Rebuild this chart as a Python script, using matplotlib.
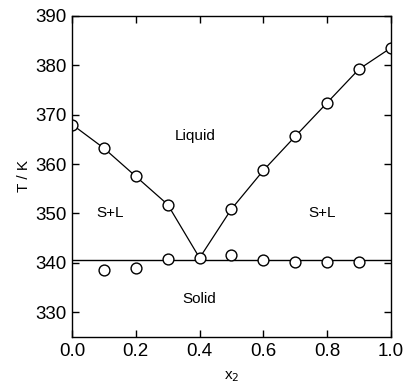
import numpy as np
import matplotlib
matplotlib.use("Agg")
import matplotlib.pyplot as plt

plt.rcParams['font.family'] = ['Liberation Sans', 'DejaVu Sans']

# liquidus points
x_liq = [0.0, 0.1, 0.2, 0.3, 0.4, 0.5, 0.6, 0.7, 0.8, 0.9, 1.0]
T_liq = [368.0, 363.2, 357.5, 351.8, 341.0, 350.9, 358.7, 365.6, 372.4, 379.2, 383.5]

# solidus points
x_sol = [0.1, 0.2, 0.3, 0.5, 0.6, 0.7, 0.8, 0.9]
T_sol = [338.6, 339.0, 340.7, 341.6, 340.5, 340.2, 340.2, 340.2]
T_eut = 340.5

fig = plt.figure(figsize=(4.05, 3.86), dpi=100)
ax = fig.add_axes([0.178, 0.127, 0.787, 0.832])

ax.axhline(T_eut, color='black', lw=1.0, zorder=1)
ax.plot(x_liq, T_liq, '-', color='black', lw=0.9, zorder=1)
ax.plot(x_liq, T_liq, 'o', mfc='white', mec='black', ms=7.8, mew=1.0, zorder=2)
ax.plot(x_sol, T_sol, 'o', mfc='white', mec='black', ms=7.8, mew=1.0, zorder=2)

ax.text(0.385, 365.6, 'Liquid', ha='center', va='center', fontsize=11)
ax.text(0.12, 350, 'S+L', ha='center', va='center', fontsize=11)
ax.text(0.785, 350, 'S+L', ha='center', va='center', fontsize=11)
ax.text(0.40, 332.7, 'Solid', ha='center', va='center', fontsize=11)

ax.set_xlim(0, 1)
ax.set_ylim(325, 390)
ax.set_xticks([0.0, 0.2, 0.4, 0.6, 0.8, 1.0])
ax.set_yticks([330, 340, 350, 360, 370, 380, 390])
ax.tick_params(direction='in', top=True, right=True, length=5, width=1, labelsize=13.5, pad=4)
ax.set_xlabel('x$_2$', fontsize=11, labelpad=7)
ax.set_ylabel('T / K', fontsize=11, labelpad=3)
for s in ax.spines.values():
    s.set_linewidth(1.0)

fig.savefig('out.png', dpi=100)
